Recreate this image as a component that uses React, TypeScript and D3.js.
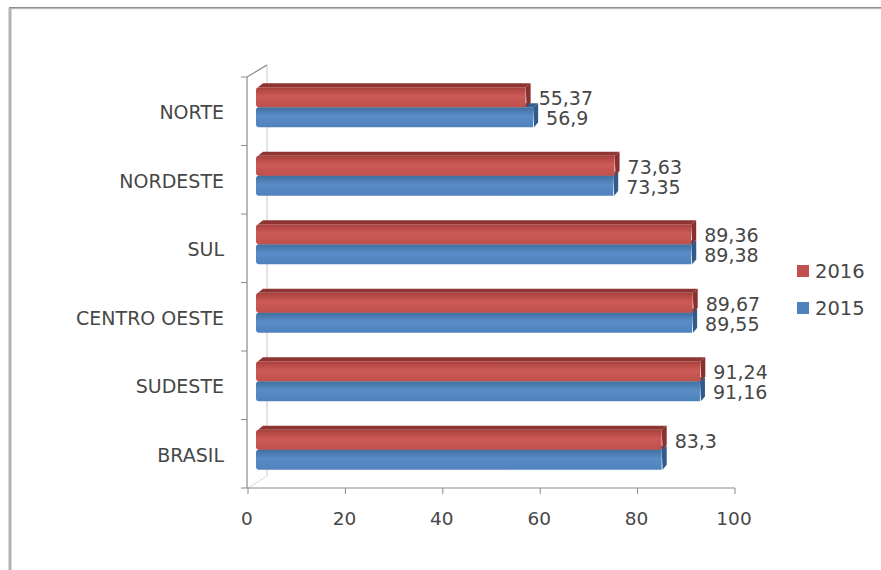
import React from "react";
import * as d3 from "d3";

const categories = ["NORTE", "NORDESTE", "SUL", "CENTRO OESTE", "SUDESTE", "BRASIL"];
const values2016 = [55.37, 73.63, 89.36, 89.67, 91.24, 83.3];
const values2015 = [56.9, 73.35, 89.38, 89.55, 91.16, 83.3];
const xTicks = [0, 20, 40, 60, 80, 100];
const seriesNames = ["2016", "2015"];

const W = 881;
const H = 570;
const FONT = "DejaVu Sans, Verdana, sans-serif";
const TEXT = "#474747";
const AXIS = "#8a8a8a";

const x = d3.scaleLinear().domain([0, 100]).range([248, 735]);
const y = d3.scaleBand<string>().domain(categories).range([77, 488]).padding(0);

const BAR_H = 20;
const OFF_X = 8;
const DX = 5;
const DY = 4;

const fmt = (v: number) => String(v).replace(".", ",");

const colors = {
  red: { front: "#C0504D", light: "#CC5A56", dark: "#A7403D", top: "#8E3532", end: "#8A302E" },
  blue: { front: "#4F81BD", light: "#5A8CC8", dark: "#40709F", top: "#34608F", end: "#2F5B8C" },
};

function Bar({ v, top, c, id }: { v: number; top: number; c: typeof colors.red; id: string }) {
  const x0 = x(0) + OFF_X;
  const x1 = x(v) + OFF_X;
  const b = top + BAR_H;
  return (
    <g>
      <polygon
        points={`${x0 + 2},${top} ${x0 + 2 + DX},${top - DY} ${x1 + DX},${top - DY} ${x1},${top}`}
        fill={c.top}
      />
      <polygon
        points={`${x1},${top} ${x1 + DX},${top - DY} ${x1 + DX},${b - DY - 1} ${x1 + 1},${b}`}
        fill={c.end}
      />
      <path
        d={`M${x0 + 3},${top} L${x1},${top} L${x1},${b} L${x0 + 3},${b} Q${x0},${b} ${x0},${b - 3} L${x0},${top + 3} Q${x0},${top} ${x0 + 3},${top} Z`}
        fill={`url(#${id})`}
      />
    </g>
  );
}

export default function App() {
  const band = y.bandwidth();
  return (
    <svg
      width={W}
      height={H}
      style={{ position: "absolute", left: 0, top: 0, background: "#fff" }}
      fontFamily={FONT}
    >
      <defs>
        {(["red", "blue"] as const).map((k) => (
          <linearGradient key={k} id={`g-${k}`} x1="0" y1="0" x2="0" y2="1">
            <stop offset="0" stopColor={colors[k].dark} />
            <stop offset="0.45" stopColor={colors[k].light} />
            <stop offset="1" stopColor={colors[k].front} />
          </linearGradient>
        ))}
      </defs>
      <rect x={0} y={0} width={W} height={H} fill="#fff" />
      {/* frame */}
      <line x1={9} y1={8} x2={W} y2={8} stroke="#8f8f8f" strokeWidth={2} />
      <line x1={9} y1={9} x2={W} y2={9} stroke="#e4e4e4" strokeWidth={1} />
      <line x1={10} y1={8} x2={10} y2={H} stroke="#b3b3b3" strokeWidth={3} />

      {/* 3D wall lines */}
      <line x1={267} y1={65} x2={267} y2={476} stroke="#c8c8c8" strokeWidth={1} />
      <line x1={247} y1={77} x2={267} y2={65} stroke={AXIS} strokeWidth={1.2} />
      <line x1={248} y1={488} x2={267} y2={476} stroke="#d8d8d8" strokeWidth={1} />

      {/* y axis */}
      <line x1={247} y1={77} x2={247} y2={488} stroke={AXIS} strokeWidth={1.2} />
      {categories.map((c) => (
        <line key={c} x1={241} x2={247} y1={(y(c) as number)} y2={(y(c) as number)} stroke={AXIS} />
      ))}
      <line x1={241} x2={247} y1={488} y2={488} stroke={AXIS} />

      {/* x axis */}
      <line x1={247} y1={488} x2={735} y2={488} stroke={AXIS} strokeWidth={1.2} />
      {xTicks.map((t) => (
        <g key={t}>
          <line x1={x(t)} x2={x(t)} y1={488} y2={494} stroke={AXIS} />
          <text x={x(t) - 1} y={525} textAnchor="middle" fontSize={18.5} fill={TEXT}>
            {t}
          </text>
        </g>
      ))}

      {/* category labels */}
      {categories.map((c) => (
        <text
          key={c}
          x={224}
          y={(y(c) as number) + band / 2 + 1}
          textAnchor="end"
          dominantBaseline="central"
          fontSize={19}
          fill={TEXT}
        >
          {c}
        </text>
      ))}

      {/* bars */}
      {categories.map((c, i) => {
        const pairTop = (y(c) as number) + (band - 2 * BAR_H) / 2 - 4;
        return (
          <g key={c}>
            <Bar v={values2015[i]} top={pairTop + BAR_H} c={colors.blue} id="g-blue" />
            <Bar v={values2016[i]} top={pairTop} c={colors.red} id="g-red" />
          </g>
        );
      })}

      {/* value labels */}
      {categories.map((c, i) => {
        const pairTop = (y(c) as number) + (band - 2 * BAR_H) / 2 - 4;
        const showBlue = values2015[i] !== values2016[i];
        return (
          <g key={c} fontSize={19} fill={TEXT}>
            <text x={x(values2016[i]) + OFF_X + 13} y={pairTop + BAR_H / 2 + 1} dominantBaseline="central">
              {fmt(values2016[i])}
            </text>
            {showBlue && (
              <text x={x(values2015[i]) + OFF_X + 13} y={pairTop + BAR_H * 1.5 + 1} dominantBaseline="central">
                {fmt(values2015[i])}
              </text>
            )}
          </g>
        );
      })}

      {/* legend */}
      {seriesNames.map((s, i) => (
        <g key={s} transform={`translate(797, ${265 + i * 37})`}>
          <rect x={0} y={0} width={12} height={12} fill={i === 0 ? colors.red.front : colors.blue.front} />
          <text x={18} y={6.5} dominantBaseline="central" fontSize={19.5} fill={TEXT}>
            {s}
          </text>
        </g>
      ))}
    </svg>
  );
}
